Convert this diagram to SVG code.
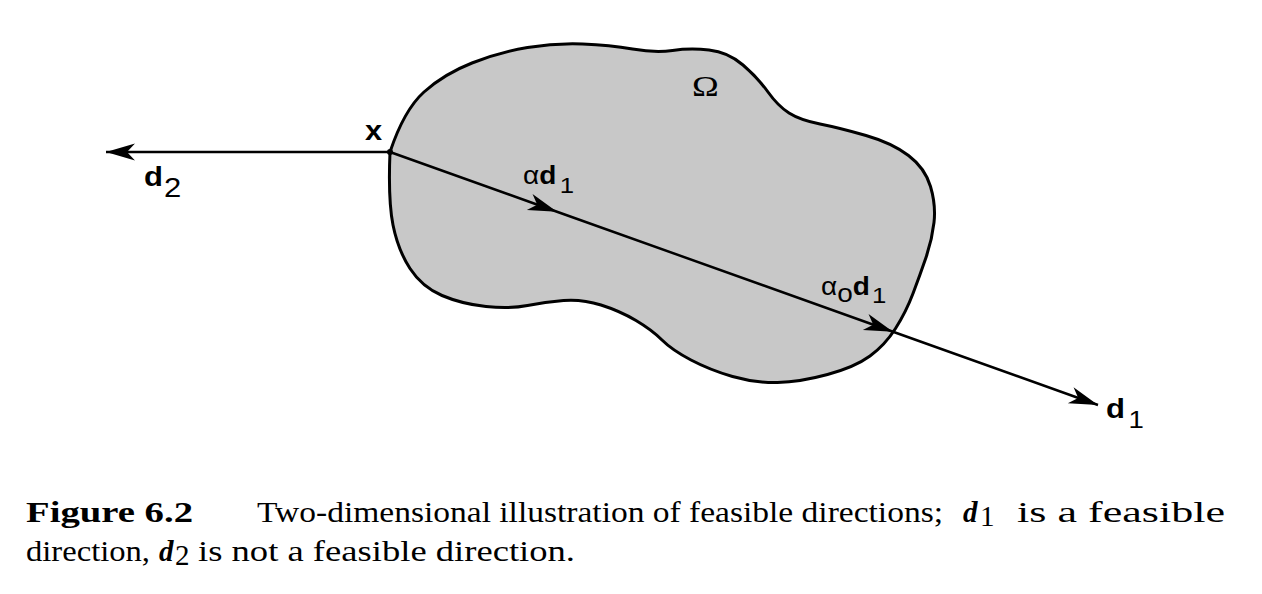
<svg xmlns="http://www.w3.org/2000/svg" width="1262" height="594" viewBox="0 0 1262 594">
<style>
.lbl{font-family:"Liberation Sans",Arimo,Arial,Helvetica,"Noto Sans",sans-serif;fill:#000}
.b{font-weight:bold}
.cap{font-family:"Liberation Serif",Tinos,"Times New Roman",Times,serif;font-size:29px;fill:#000}
.ln{fill:none;stroke:#000;stroke-width:2.5}
</style>
<defs>
<marker id="ah" markerUnits="userSpaceOnUse" markerWidth="40" markerHeight="24" viewBox="-32 -12 40 24" refX="0" refY="0" orient="auto">
<path d="M0,0 L-29,-8.5 L-21,0 L-29,8.5 Z" fill="#000"/>
</marker>
</defs>
<rect width="1262" height="594" fill="#fff"/>
<g id="region">
<path d="M390,152 Q404,110 424,92 Q444,74 472,63 Q500,52 527.5,47.5 Q555,43 582.5,44 Q610,45 632.5,49 Q655,53 672.5,50.5 Q690,48 709,50 Q728,52 743,65 Q758,78 768,92 Q778,106 789,113 Q800,120 820,124 Q840,128 866,135.5 Q892,143 908.5,155.5 Q925,168 930.5,186.5 Q936,205 934,222.5 Q932,240 926,257.5 Q920,275 913,293.5 Q906,312 895.5,328.5 Q885,345 870,356 Q855,367 827.5,374.5 Q800,382 777.5,382.5 Q755,383 732.5,376.5 Q710,370 691,360 Q672,350 662,340 Q652,330 636,320.5 Q620,311 601,305 Q582,299 563.5,300.5 Q545,302 527.5,305.5 Q510,309 486,306.5 Q462,304 442,295.5 Q422,287 410,268.5 Q398,250 393,225 Q388,200 390,152 Z" fill="#c8c8c8" stroke="#000" stroke-width="3"/>
<text font-family="Liberation Serif,Tinos,serif" font-size="30" fill="#000" transform="translate(692,96) scale(1.2,1)">Ω</text>
</g>
<g id="connectors">
<polyline class="ln" points="390,152 557,211.7 893,331.7 1098,405" marker-mid="url(#ah)" marker-end="url(#ah)"/>
<line class="ln" x1="390" y1="152" x2="106" y2="152" marker-end="url(#ah)"/>
</g>
<g id="point-x">
<circle cx="390" cy="152" r="3" fill="#000"/>
<text class="lbl b" font-size="28" transform="translate(365,140) scale(1.1,1)">x</text>
</g>
<g id="label-d2">
<text class="lbl" font-size="27" transform="translate(144,186) scale(1.15,1)"><tspan class="b">d</tspan><tspan dx="1" dy="11">2</tspan></text>
</g>
<g id="label-alpha-d1">
<text class="lbl" font-size="25" transform="translate(523,184) scale(1.12,1)">α<tspan class="b">d</tspan><tspan font-size="23" dx="3" dy="9">1</tspan></text>
</g>
<g id="label-alpha0-d1">
<text class="lbl" font-size="25" transform="translate(821,295) scale(1.12,1)">α<tspan dy="7">o</tspan><tspan class="b" dy="-7">d</tspan><tspan font-size="23" dx="2" dy="8">1</tspan></text>
</g>
<g id="label-d1">
<text class="lbl" font-size="27" transform="translate(1106,418) scale(1.15,1)"><tspan class="b">d</tspan><tspan font-size="24" dx="3" dy="10">1</tspan></text>
</g>
<g id="caption">
<text class="cap" x="26" y="522" font-weight="bold" textLength="167" lengthAdjust="spacingAndGlyphs">Figure 6.2</text>
<text class="cap" x="257" y="522" textLength="686" lengthAdjust="spacingAndGlyphs">Two-dimensional illustration of feasible directions;</text>
<text class="cap" x="963" y="522" font-weight="bold" font-style="italic">d</text>
<text class="cap" x="980" y="526" font-size="19">1</text>
<text class="cap" x="1017" y="522" textLength="208" lengthAdjust="spacingAndGlyphs">is a feasible</text>
<text class="cap" x="26" y="561" textLength="124" lengthAdjust="spacingAndGlyphs">direction,</text>
<text class="cap" x="159" y="561" font-weight="bold" font-style="italic">d</text>
<text class="cap" x="175" y="565" font-size="19">2</text>
<text class="cap" x="198" y="561" textLength="377" lengthAdjust="spacingAndGlyphs">is not a feasible direction.</text>
</g>
</svg>
